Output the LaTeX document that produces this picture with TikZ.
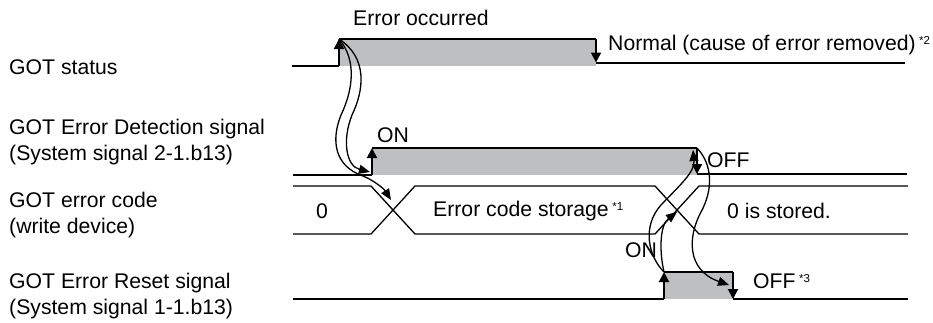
\documentclass[tikz,border=0pt]{standalone}
\usepackage{fontspec}
\setmainfont{Liberation Sans}
\usetikzlibrary{arrows.meta}
\definecolor{fillgray}{RGB}{190,191,193}
\tikzset{
  lbl/.style={anchor=west,inner sep=0pt,align=left,font=\fontsize{21.2}{25.5}\selectfont},
  txt/.style={inner sep=0pt,font=\fontsize{21.2}{25.5}\selectfont},
  sig/.style={line width=2pt,black},
  bus/.style={line width=1.3pt,black},
  tip/.style={-{Triangle[length=10pt,width=10pt]}},
  flow/.style={line width=1.3pt,black,-{Triangle[length=11pt,width=9pt]}},
  shade/.style={fill=fillgray,draw=none}
}
\newcommand{\sups}[1]{\,\raisebox{0.55ex}{\fontsize{11.5}{12}\selectfont #1}}
\begin{document}
\begin{tikzpicture}[x=1pt,y=-1pt]
\useasboundingbox (0,0) rectangle (933,322);
% left labels
\node[lbl] (l1) at (9,67) {GOT status};
\node[lbl] (l2) at (9,142) {GOT Error Detection signal\\(System signal 2-1.b13)};
\node[lbl] (l3) at (9,215) {GOT error code\\(write device)};
\node[lbl] (l4) at (9,296) {GOT Error Reset signal\\(System signal 1-1.b13)};
% coordinates
\coordinate (s0) at (292,65.5); \coordinate (sr) at (339,65.5); \coordinate (srt) at (339,39);
\coordinate (sf) at (596,39); \coordinate (sfb) at (596,62.5); \coordinate (s1) at (905,62.5);
\coordinate (d0) at (293,175); \coordinate (dr) at (372,175); \coordinate (drt) at (372,148);
\coordinate (df) at (697,148); \coordinate (dfb) at (697,174); \coordinate (d1) at (907,174);
\coordinate (r0) at (293,299); \coordinate (rr) at (664,299); \coordinate (rrt) at (664,272);
\coordinate (rf) at (733,272); \coordinate (rfb) at (733,299); \coordinate (r1) at (908,299);
% shading
\fill[shade] (339,39) rectangle (596,65.5);
\fill[shade] (372,148) rectangle (697,175);
\fill[shade] (664,272) rectangle (733,299);
% status
\draw[sig] (s0) -- (sr);
\draw[sig,tip] (sr) -- (srt);
\draw[sig] (srt) -- (sf);
\draw[sig,tip] (sf) -- (sfb);
\draw[sig] (sfb) -- (s1);
% detection
\draw[sig] (d0) -- (dr);
\draw[sig,tip] (dr) -- (drt);
\draw[sig] (drt) -- (df);
\draw[sig,tip] (df) -- (dfb);
\draw[sig] (dfb) -- (d1);
% bus
\draw[bus] (293,186) -- (371,186) -- (415,234) -- (655,234) -- (699,186) -- (908,186);
\draw[bus] (293,234) -- (371,234) -- (415,186) -- (655,186) -- (699,234) -- (908,234);
% reset
\draw[sig] (r0) -- (rr);
\draw[sig,tip] (rr) -- (rrt);
\draw[sig] (rrt) -- (rf);
\draw[sig,tip] (rf) -- (rfb);
\draw[sig] (rfb) -- (r1);
% curved arrows
\coordinate (c1) at (370,172);
\coordinate (c2) at (391,200);
\coordinate (c3) at (677,212);
\coordinate (c4) at (693,150);
\coordinate (c5) at (729,285);
\draw[flow] (srt) .. controls (368,58) and (364,90) .. (352,115) .. controls (342,140) and (346,166) .. (c1);
\draw[flow] (srt) .. controls (357,60) and (353,90) .. (341,115) .. controls (331,140) and (334,166) .. (363,176) .. controls (375,181) and (384,189) .. (c2);
\draw[flow] (rrt) .. controls (648,256) and (642,226) .. (661,205) .. controls (680,185) and (695,172) .. (c4);
\draw[flow] (rrt) .. controls (659,250) and (660,225) .. (c3);
\draw[flow] (df) .. controls (713,165) and (713,190) .. (701,212) .. controls (688,236) and (686,270) .. (c5);
% texts
\node[txt,anchor=west] (t1) at (353,18) {Error occurred};
\node[txt,anchor=west] (t2) at (608,45) {Normal (cause of error removed)\sups{*2}};
\node[txt,anchor=west] (t3) at (377,135) {ON};
\node[txt,anchor=west] (t4) at (707,160) {OFF};
\node[txt,anchor=west] (t5) at (316,211) {0};
\node[txt,anchor=west] (t6) at (433,211) {Error code storage\sups{*1}};
\node[txt,anchor=west] (t7) at (727,211) {0 is stored.};
\node[txt,anchor=west] (t8) at (625,250) {ON};
\node[txt,anchor=west] (t9) at (753,281) {OFF\sups{*3}};
\end{tikzpicture}
\end{document}
